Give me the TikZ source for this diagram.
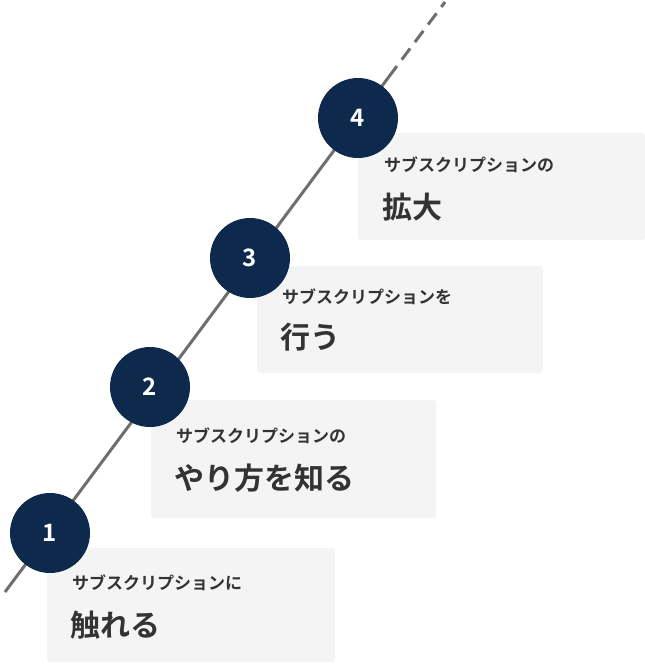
\documentclass[tikz,border=0pt]{standalone}
\usepackage{fontspec}
\newfontfamily\jp{Noto Sans CJK JP Bold}
\definecolor{navy}{HTML}{0D2A4D}
\definecolor{boxgray}{HTML}{F4F4F4}
\definecolor{linegray}{HTML}{6E6E6E}
\tikzset{
  stepcircle/.style={circle,fill=navy,minimum size=80pt,inner sep=0pt,text=white,font=\jp\fontsize{24}{24}\selectfont},
  panel/.style={fill=boxgray,rounded corners=3pt,draw=none},
  small/.style={anchor=west,inner sep=0pt,font=\jp\fontsize{17}{17}\selectfont,text=black!80},
  big/.style={anchor=west,inner sep=0pt,font=\jp\fontsize{30}{30}\selectfont,text=black!80},
  track/.style={linegray,line width=3pt}
}
\begin{document}
\begin{tikzpicture}[x=1pt,y=-1pt]
\useasboundingbox (0,0) rectangle (645,664);
\coordinate (s) at (5,592);
\coordinate (e) at (445,2);
\coordinate (k1) at (49.5,532.3);
\coordinate (k2) at (150,397.5);
\coordinate (k3) at (250,263.4);
\coordinate (k4) at (358,118.2);
\coordinate (k5) at (388.5,77.3);
\draw[track] (s) -- (k5);
\draw[track,dashed,dash pattern=on 14pt off 8pt] (k5) -- (e);
\fill[panel] (47,548) rectangle (335,662);
\fill[panel] (151,400) rectangle (436,518);
\fill[panel] (257,266) rectangle (543,373);
\fill[panel] (358,133) rectangle (645,240);
\node[stepcircle] (c1) at (50,533) {1};
\node[stepcircle] (c2) at (150,387) {2};
\node[stepcircle] (c3) at (250,258) {3};
\node[stepcircle] (c4) at (358,118) {4};
\node[small] (t1) at (72,583) {サブスクリプションに};
\node[big] (b1) at (70,625) {触れる};
\node[small] (t2) at (176,436) {サブスクリプションの};
\node[big] (b2) at (174,478) {やり方を知る};
\node[small] (t3) at (282,297) {サブスクリプションを};
\node[big] (b3) at (280,337) {行う};
\node[small] (t4) at (384,165) {サブスクリプションの};
\node[big] (b4) at (382,207) {拡大};
\end{tikzpicture}
\end{document}
